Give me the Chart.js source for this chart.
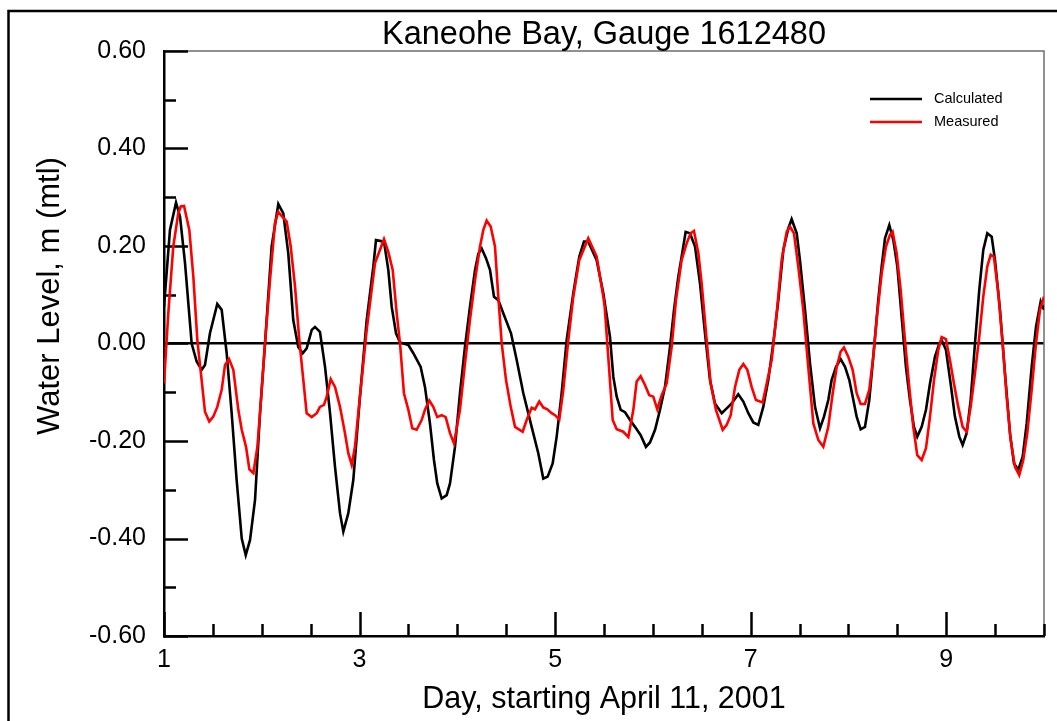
<!DOCTYPE html>
<html>
<head>
<meta charset="utf-8">
<title>Kaneohe Bay, Gauge 1612480</title>
<script src="https://cdn.jsdelivr.net/npm/chart.js@4.4.1/dist/chart.umd.min.js"></script>
<style>
  html, body { margin: 0; padding: 0; background: #fff; }
  #wrap { width: 1057px; height: 721px; position: relative; }
</style>
</head>
<body>
<div id="wrap"><canvas id="tideChart"></canvas></div>
<script>
// === ДАННЫЕ ===
const chartTitle = 'Kaneohe Bay, Gauge 1612480';
const xTitle = 'Day, starting April 11, 2001';
const yTitle = 'Water Level, m (mtl)';

const dayTicks = [1, 3, 5, 7, 9];
const levelTicks = [-0.6, -0.4, -0.2, 0, 0.2, 0.4, 0.6];

// расчётный уровень (модель)
const calcDays = [
  1.000, 1.061, 1.123, 1.164, 1.215, 1.283, 1.334, 1.385, 1.419, 1.470,
  1.545, 1.590, 1.641, 1.692, 1.743, 1.795, 1.836, 1.880, 1.931, 1.982,
  2.033, 2.101, 2.169, 2.220, 2.271, 2.322, 2.373, 2.418, 2.459, 2.511,
  2.544, 2.595, 2.647, 2.698, 2.749, 2.800, 2.834, 2.885, 2.936, 3.004,
  3.073, 3.141, 3.168, 3.250, 3.294, 3.329, 3.373, 3.414, 3.499, 3.550,
  3.625, 3.669, 3.720, 3.761, 3.795, 3.840, 3.891, 3.925, 3.976, 4.027,
  4.078, 4.129, 4.181, 4.215, 4.249, 4.293, 4.334, 4.375, 4.419, 4.470,
  4.549, 4.607, 4.675, 4.760, 4.828, 4.879, 4.924, 4.975, 5.016, 5.067,
  5.118, 5.186, 5.247, 5.295, 5.339, 5.425, 5.493, 5.561, 5.595, 5.630,
  5.671, 5.715, 5.766, 5.817, 5.875, 5.929, 5.970, 6.022, 6.073, 6.124,
  6.175, 6.216, 6.260, 6.294, 6.335, 6.379, 6.431, 6.482, 6.533, 6.584,
  6.635, 6.704, 6.755, 6.806, 6.873, 6.925, 6.976, 7.027, 7.078, 7.129,
  7.180, 7.231, 7.283, 7.334, 7.385, 7.419, 7.471, 7.504, 7.556, 7.607,
  7.658, 7.709, 7.750, 7.794, 7.828, 7.873, 7.920, 7.965, 8.009, 8.050,
  8.084, 8.125, 8.169, 8.213, 8.254, 8.305, 8.340, 8.374, 8.418, 8.459,
  8.500, 8.544, 8.588, 8.629, 8.670, 8.704, 8.749, 8.793, 8.834, 8.885,
  8.929, 8.953, 8.997, 9.045, 9.089, 9.134, 9.168, 9.209, 9.250, 9.294,
  9.338, 9.379, 9.420, 9.465, 9.499, 9.550, 9.601, 9.652, 9.693, 9.737,
  9.782, 9.823, 9.874, 9.918, 9.966, 10.000
];
const calcLevels = [
  0.075, 0.233, 0.289, 0.260, 0.165, 0.000, -0.037, -0.054, -0.044, 0.021,
  0.081, 0.069, -0.020, -0.143, -0.280, -0.400, -0.434, -0.403, -0.321, -0.143,
  0.000, 0.199, 0.286, 0.267, 0.185, 0.048, -0.007, -0.020, -0.010, 0.028,
  0.034, 0.024, -0.048, -0.143, -0.253, -0.348, -0.386, -0.348, -0.280, -0.109,
  0.048, 0.158, 0.212, 0.209, 0.151, 0.075, 0.021, 0.002, -0.003, -0.020,
  -0.048, -0.089, -0.164, -0.239, -0.287, -0.318, -0.311, -0.287, -0.212, -0.102,
  -0.007, 0.075, 0.151, 0.184, 0.195, 0.175, 0.151, 0.096, 0.089, 0.062,
  0.021, -0.034, -0.102, -0.171, -0.225, -0.277, -0.273, -0.246, -0.191, -0.102,
  0.007, 0.103, 0.178, 0.209, 0.209, 0.171, 0.103, 0.014, -0.068, -0.109,
  -0.136, -0.141, -0.157, -0.171, -0.188, -0.212, -0.203, -0.177, -0.136, -0.089,
  -0.007, 0.069, 0.137, 0.178, 0.229, 0.226, 0.199, 0.123, 0.021, -0.075,
  -0.123, -0.143, -0.133, -0.123, -0.104, -0.119, -0.143, -0.162, -0.167, -0.130,
  -0.075, 0.000, 0.089, 0.192, 0.236, 0.255, 0.226, 0.171, 0.069, -0.041,
  -0.130, -0.174, -0.150, -0.116, -0.075, -0.048, -0.032, -0.048, -0.075, -0.116,
  -0.150, -0.176, -0.171, -0.116, -0.027, 0.089, 0.158, 0.216, 0.243, 0.212,
  0.158, 0.055, -0.048, -0.116, -0.171, -0.191, -0.171, -0.136, -0.082, -0.027,
  0.000, 0.007, -0.013, -0.082, -0.150, -0.191, -0.208, -0.184, -0.116, 0.000,
  0.110, 0.192, 0.226, 0.219, 0.171, 0.069, -0.061, -0.184, -0.246, -0.259,
  -0.232, -0.164, -0.048, 0.034, 0.086, 0.069
];

// измеренный уровень (мареограф)
const measDays = [
  1.000, 1.044, 1.095, 1.146, 1.171, 1.205, 1.259, 1.300, 1.341, 1.385,
  1.419, 1.463, 1.504, 1.545, 1.590, 1.624, 1.665, 1.709, 1.760, 1.795,
  1.839, 1.873, 1.914, 1.955, 1.982, 2.033, 2.084, 2.135, 2.169, 2.214,
  2.255, 2.296, 2.340, 2.384, 2.425, 2.459, 2.511, 2.562, 2.595, 2.636,
  2.664, 2.705, 2.749, 2.800, 2.851, 2.885, 2.920, 2.953, 3.004, 3.073,
  3.158, 3.250, 3.294, 3.339, 3.380, 3.414, 3.454, 3.499, 3.539, 3.584,
  3.635, 3.669, 3.713, 3.754, 3.795, 3.840, 3.881, 3.925, 3.966, 4.027,
  4.078, 4.129, 4.181, 4.232, 4.266, 4.300, 4.341, 4.385, 4.419, 4.454,
  4.498, 4.546, 4.590, 4.668, 4.709, 4.760, 4.794, 4.838, 4.879, 4.920,
  4.965, 4.999, 5.043, 5.084, 5.135, 5.186, 5.247, 5.339, 5.425, 5.493,
  5.507, 5.551, 5.589, 5.630, 5.697, 5.749, 5.800, 5.834, 5.875, 5.919,
  5.963, 6.004, 6.045, 6.090, 6.141, 6.192, 6.236, 6.294, 6.346, 6.386,
  6.420, 6.465, 6.499, 6.550, 6.591, 6.645, 6.714, 6.755, 6.796, 6.840,
  6.884, 6.925, 6.966, 7.010, 7.054, 7.123, 7.164, 7.215, 7.266, 7.317,
  7.368, 7.402, 7.443, 7.487, 7.538, 7.589, 7.641, 7.692, 7.743, 7.794,
  7.839, 7.880, 7.920, 7.954, 7.998, 8.043, 8.084, 8.125, 8.169, 8.213,
  8.254, 8.295, 8.340, 8.384, 8.425, 8.452, 8.493, 8.534, 8.578, 8.622,
  8.663, 8.704, 8.749, 8.793, 8.834, 8.875, 8.919, 8.953, 8.997, 9.038,
  9.079, 9.123, 9.168, 9.209, 9.250, 9.294, 9.338, 9.379, 9.420, 9.455,
  9.488, 9.533, 9.577, 9.618, 9.659, 9.703, 9.747, 9.788, 9.829, 9.874,
  9.918, 9.959, 10.000
];
const measLevels = [
  -0.082, 0.062, 0.199, 0.267, 0.281, 0.282, 0.233, 0.137, 0.007, -0.075,
  -0.140, -0.160, -0.150, -0.130, -0.095, -0.044, -0.032, -0.054, -0.136, -0.177,
  -0.212, -0.258, -0.266, -0.212, -0.143, 0.000, 0.130, 0.247, 0.270, 0.259,
  0.250, 0.199, 0.117, 0.007, -0.075, -0.143, -0.151, -0.143, -0.130, -0.126,
  -0.109, -0.073, -0.089, -0.130, -0.184, -0.225, -0.249, -0.212, -0.109, 0.028,
  0.165, 0.214, 0.188, 0.151, 0.062, 0.000, -0.102, -0.136, -0.174, -0.177,
  -0.157, -0.136, -0.117, -0.130, -0.151, -0.147, -0.151, -0.184, -0.205, -0.136,
  -0.041, 0.048, 0.130, 0.199, 0.233, 0.252, 0.240, 0.199, 0.096, 0.000,
  -0.075, -0.130, -0.171, -0.181, -0.157, -0.132, -0.135, -0.119, -0.131, -0.135,
  -0.143, -0.147, -0.156, -0.095, 0.007, 0.096, 0.171, 0.216, 0.178, 0.096,
  0.075, -0.048, -0.157, -0.176, -0.181, -0.192, -0.136, -0.078, -0.067, -0.085,
  -0.106, -0.109, -0.135, -0.106, -0.082, -0.007, 0.089, 0.171, 0.206, 0.226,
  0.231, 0.185, 0.123, 0.007, -0.082, -0.136, -0.177, -0.167, -0.147, -0.089,
  -0.054, -0.042, -0.054, -0.089, -0.116, -0.121, -0.082, -0.034, 0.062, 0.171,
  0.229, 0.240, 0.226, 0.158, 0.069, -0.048, -0.164, -0.198, -0.212, -0.171,
  -0.102, -0.048, -0.017, -0.008, -0.027, -0.054, -0.102, -0.124, -0.124, -0.095,
  -0.027, 0.062, 0.144, 0.199, 0.223, 0.229, 0.185, 0.110, 0.007, -0.089,
  -0.171, -0.229, -0.239, -0.215, -0.150, -0.075, -0.013, 0.013, 0.009, -0.034,
  -0.082, -0.130, -0.171, -0.181, -0.130, -0.061, 0.014, 0.096, 0.158, 0.182,
  0.178, 0.103, 0.000, -0.109, -0.198, -0.253, -0.270, -0.239, -0.184, -0.095,
  0.000, 0.069, 0.096
];

const FONT = "'Liberation Sans', Arial, sans-serif";

function toPoints(xs, ys) {
    return xs.map((x, i) => ({ x: x, y: ys[i] }));
}

// === РАМКИ, ЗАСЕЧКИ, ПОДПИСИ, ЛЕГЕНДА ===
const decorPlugin = {
    id: 'decor',
    beforeDatasetsDraw(chart) {
        const ctx = chart.ctx;
        const area = chart.chartArea;
        const xs = chart.scales.x;
        const ys = chart.scales.y;
        ctx.save();

        // тонкая рамка сверху и справа
        ctx.strokeStyle = '#6e6e6e';
        ctx.lineWidth = 1.5;
        ctx.beginPath();
        ctx.moveTo(area.left, area.top);
        ctx.lineTo(area.right, area.top);
        ctx.lineTo(area.right, area.bottom);
        ctx.stroke();

        // засечки внутрь: большие на подписанных значениях, малые между ними
        ctx.strokeStyle = '#000';
        ctx.lineWidth = 2.5;
        ctx.beginPath();
        for (let i = 0; i <= 12; i++) {
            const v = -0.6 + i * 0.1;
            const y = Math.round(ys.getPixelForValue(v)) + 0.5;
            const len = i % 2 === 0 ? 24 : 12;
            ctx.moveTo(area.left, y);
            ctx.lineTo(area.left + len, y);
        }
        for (let i = 0; i <= 18; i++) {
            const v = 1 + i * 0.5;
            const x = Math.round(xs.getPixelForValue(v)) + 0.5;
            const len = dayTicks.includes(v) ? 24 : 12;
            ctx.moveTo(x, area.bottom);
            ctx.lineTo(x, area.bottom - len);
        }
        ctx.stroke();
        ctx.restore();
    },
    afterDraw(chart) {
        const ctx = chart.ctx;
        const area = chart.chartArea;
        ctx.save();

        // внешняя рамка рисунка
        ctx.strokeStyle = '#000';
        ctx.lineWidth = 2.5;
        ctx.beginPath();
        ctx.moveTo(8.5, chart.height);
        ctx.lineTo(8.5, 11);
        ctx.lineTo(chart.width, 11);
        ctx.stroke();

        ctx.fillStyle = '#000';

        // заголовок
        ctx.font = `32.5px ${FONT}`;
        ctx.textAlign = 'center';
        ctx.textBaseline = 'alphabetic';
        ctx.fillText(chartTitle, (area.left + area.right) / 2, 44);

        // подпись оси X
        ctx.font = `30.5px ${FONT}`;
        ctx.fillText(xTitle, (area.left + area.right) / 2, 708);

        // подпись оси Y
        ctx.font = `31px ${FONT}`;
        ctx.save();
        ctx.translate(58.5, 296);
        ctx.rotate(-Math.PI / 2);
        ctx.fillText(yTitle, 0, 0);
        ctx.restore();

        // легенда
        ctx.font = `14.5px ${FONT}`;
        ctx.textAlign = 'left';
        ctx.textBaseline = 'middle';
        const legendY = [99, 122];
        ['Calculated', 'Measured'].forEach((label, i) => {
            const ds = chart.data.datasets.find(d => d.label === label);
            ctx.strokeStyle = ds.borderColor;
            ctx.lineWidth = 2.5;
            ctx.beginPath();
            ctx.moveTo(870, legendY[i]);
            ctx.lineTo(922, legendY[i]);
            ctx.stroke();
            ctx.fillText(label, 934, legendY[i]);
        });
        ctx.restore();
    }
};

// === ГРАФИК ===
const chart = new Chart(document.getElementById('tideChart'), {
    type: 'line',
    data: {
        datasets: [
            {
                label: 'Calculated',
                data: toPoints(calcDays, calcLevels),
                borderColor: '#000000',
                borderWidth: 2.6,
                pointRadius: 0,
                tension: 0,
                fill: false,
                order: 1
            },
            {
                label: 'Measured',
                data: toPoints(measDays, measLevels),
                borderColor: '#ff0000',
                borderWidth: 2.6,
                pointRadius: 0,
                tension: 0,
                fill: false,
                order: 0
            }
        ]
    },
    options: {
        responsive: true,
        maintainAspectRatio: false,
        animation: false,
        layout: { padding: { top: 51, right: 13, left: 0, bottom: 0 } },
        plugins: {
            legend: { display: false },
            title: { display: false },
            tooltip: { enabled: false }
        },
        scales: {
            x: {
                type: 'linear',
                min: 1,
                max: 10,
                afterBuildTicks: s => { s.ticks = dayTicks.map(v => ({ value: v })); },
                afterFit: s => { s.height = 85; },
                grid: { display: false, drawTicks: false },
                border: { display: true, color: '#000', width: 2.5 },
                ticks: {
                    color: '#000',
                    font: { family: FONT, size: 25 },
                    padding: 9,
                    autoSkip: false,
                    maxRotation: 0,
                    callback: v => String(v)
                }
            },
            y: {
                type: 'linear',
                min: -0.6,
                max: 0.6,
                afterBuildTicks: s => { s.ticks = levelTicks.map(v => ({ value: v })); },
                afterFit: s => { s.width = 164; },
                grid: {
                    drawTicks: false,
                    color: c => (c.tick && c.tick.value === 0 ? '#000' : 'rgba(0,0,0,0)'),
                    lineWidth: 2.5
                },
                border: { display: true, color: '#000', width: 2.5 },
                ticks: {
                    color: '#000',
                    font: { family: FONT, size: 25 },
                    padding: 18,
                    callback: v => v.toFixed(2)
                }
            }
        }
    },
    plugins: [decorPlugin]
});
</script>
</body>
</html>
